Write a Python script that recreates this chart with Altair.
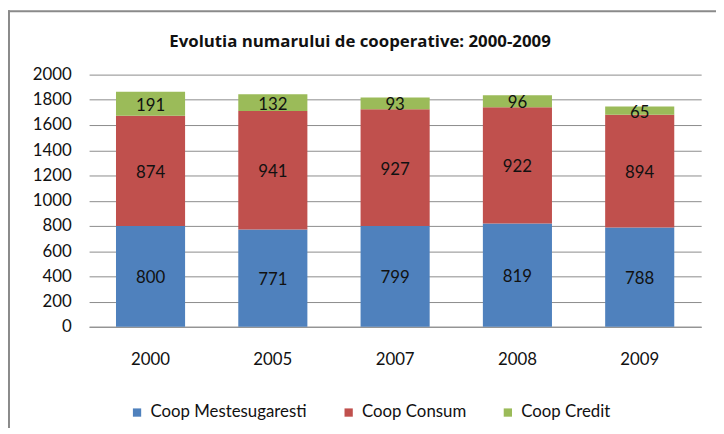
import altair as alt
import pandas as pd

years = ["2000", "2005", "2007", "2008", "2009"]
series = ["Coop Mestesugaresti", "Coop Consum", "Coop Credit"]
mestesugaresti = [800, 771, 799, 819, 788]
consum = [874, 941, 927, 922, 894]
credit = [191, 132, 93, 96, 65]
colors = ["#4F81BD", "#C0504D", "#9BBB59"]
y_ticks = list(range(0, 2001, 200))
title_text = "Evolutia numarului de cooperative: 2000-2009"

FONT = "Lato"
GRID = "#8C8C8C"
TXT = "#111111"

rows = []
for i, yr in enumerate(years):
    for k, (s, vals) in enumerate(zip(series, [mestesugaresti, consum, credit])):
        rows.append({"year": yr, "series": s, "order": k, "value": vals[i]})
df = pd.DataFrame(rows)

base = alt.Chart(df).transform_stack(
    stack="value", groupby=["year"],
    sort=[alt.SortField("order", order="ascending")],
    as_=["y0", "y1"],
).transform_calculate(mid="(datum.y0 + datum.y1) / 2")

x_scale = alt.Scale(paddingInner=0.435, paddingOuter=0.22)
x_axis = alt.Axis(labelAngle=0, ticks=False, labelPadding=25, domainColor=GRID,
                  domainWidth=1, labelFontSize=17, labelColor=TXT, labelFont=FONT)
y_scale = alt.Scale(domain=[0, 2000], nice=False)
y_axis = alt.Axis(values=y_ticks, format="d", labelOverlap=False, ticks=False,
                  domain=False, grid=True, gridColor=GRID, gridWidth=1,
                  labelPadding=18, labelFontSize=17, labelColor=TXT, labelFont=FONT)

bars = base.mark_bar().encode(
    x=alt.X("year:N", sort=years, title=None, scale=x_scale, axis=x_axis),
    y=alt.Y("y0:Q", scale=y_scale, title=None, axis=y_axis),
    y2="y1:Q",
    color=alt.Color("series:N", sort=series,
                    scale=alt.Scale(domain=series, range=colors),
                    legend=alt.Legend(title=None, orient="none", legendX=40, legendY=333,
                                      direction="horizontal", symbolType="square",
                                      symbolSize=70, symbolStrokeWidth=0,
                                      labelFontSize=17, labelFont=FONT, labelColor=TXT,
                                      columnPadding=33, labelOffset=5)),
    order=alt.Order("order:Q"),
)

labels = base.mark_text(fontSize=17, font=FONT, color=TXT, baseline="middle", dy=2).encode(
    x=alt.X("year:N", sort=years, title=None, scale=x_scale, axis=x_axis),
    y=alt.Y("mid:Q", scale=y_scale, title=None, axis=y_axis),
    text=alt.Text("value:Q"),
)

frame_data = alt.Data(values=[{"t": title_text}])
title_mark = alt.Chart(frame_data).mark_text(
    fontSize=17, fontWeight="bold", font="Open Sans", color=TXT, baseline="middle",
    align="center"
).encode(x=alt.value(274), y=alt.value(-33), text="t:N")
left_border = alt.Chart(frame_data).mark_rule(color="#8A8A8A", strokeWidth=2).encode(
    x=alt.value(-81), y=alt.value(-65), y2=alt.value(360))
top_border = alt.Chart(frame_data).mark_rule(color="#8A8A8A", strokeWidth=2).encode(
    x=alt.value(-82), x2=alt.value(640), y=alt.value(-64))

chart = alt.layer(bars, labels, title_mark, left_border, top_border).properties(
    width=619, height=255,
    autosize=alt.AutoSizeParams(type="none"),
    padding={"left": 82, "top": 65, "right": 15, "bottom": 100},
).configure_view(stroke=None)

chart.save("out.html", embed_options={"renderer": "svg", "actions": False})
